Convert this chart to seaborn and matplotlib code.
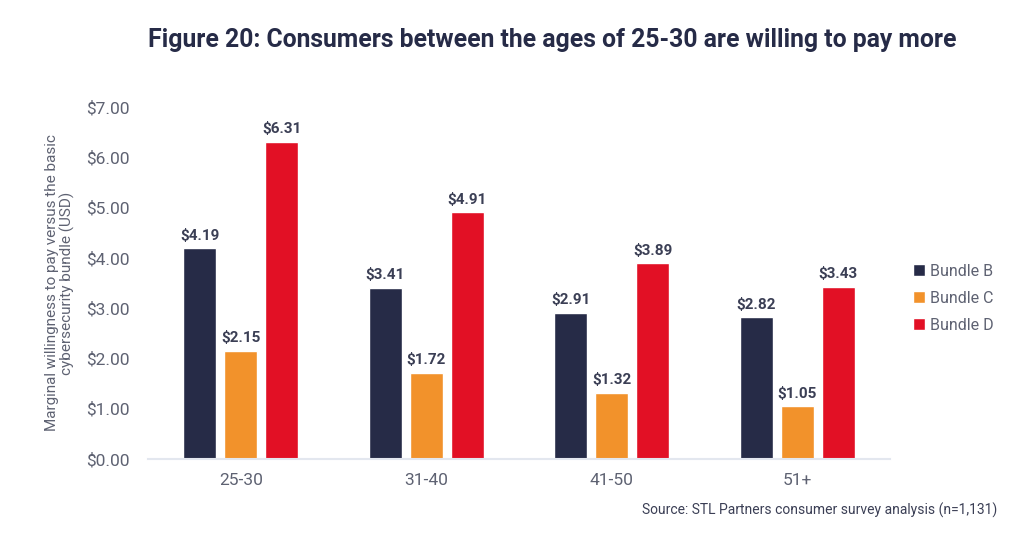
import matplotlib
matplotlib.use("Agg")
import matplotlib.pyplot as plt
import seaborn as sns
import pandas as pd
from matplotlib.patches import Patch

categories = ["25-30", "31-40", "41-50", "51+"]
bundles = ["Bundle B", "Bundle C", "Bundle D"]
bundle_b = [4.19, 3.41, 2.91, 2.82]
bundle_c = [2.15, 1.72, 1.32, 1.05]
bundle_d = [6.31, 4.91, 3.89, 3.43]
y_ticks = [0, 1, 2, 3, 4, 5, 6, 7]
colors = ["#262B47", "#F2922B", "#E21025"]

rows = []
for name, vals in zip(bundles, [bundle_b, bundle_c, bundle_d]):
    for cat, v in zip(categories, vals):
        rows.append({"Age": cat, "Bundle": name, "Value": v})
df = pd.DataFrame(rows)

sns.set_theme(style="white")
plt.rcParams['font.family'] = ['Roboto', 'DejaVu Sans']

fig = plt.figure(figsize=(10.24, 5.39), dpi=100)
ax = fig.add_axes([0.1445, 0.1484, 0.7245, 0.6531])

sns.barplot(data=df, x="Age", y="Value", hue="Bundle", palette=colors,
            order=categories, hue_order=bundles, width=0.663, gap=0.2,
            ax=ax, legend=False, saturation=1)

ax.set_xlim(-0.5, 3.5)
ax.set_ylim(0, 7)
ax.set_yticks(y_ticks)
ax.set_yticklabels([f"${t:.2f}" for t in y_ticks])
ax.tick_params(axis="both", length=0, labelsize=12.5, labelcolor="#5E6272")
ax.tick_params(axis="y", pad=13)
ax.tick_params(axis="x", pad=10)
for s in ["top", "right", "left"]:
    ax.spines[s].set_visible(False)
ax.spines["bottom"].set_color("#E3E7EF")
ax.spines["bottom"].set_linewidth(1.5)
ax.set_xlabel("")
ax.set_ylabel("Marginal willingness to pay versus the basic\ncybersecurity bundle (USD)",
              fontsize=11, color="#5E6272", labelpad=8, linespacing=1.05)

for cont in ax.containers:
    ax.bar_label(cont, labels=[f"${v:.2f}" for v in cont.datavalues], padding=4,
                 fontsize=11, fontweight="bold", color="#3B3F55")

handles = [Patch(facecolor=c, label=b) for c, b in zip(colors, bundles)]
fig.legend(handles=handles, loc="center left", bbox_to_anchor=(0.878, 0.447),
           frameon=False, handlelength=0.7, handleheight=0.7, handletextpad=0.35,
           labelspacing=0.75, prop={"size": 11.5}, labelcolor="#5E6272")

fig.text(0.539, 0.925, "Figure 20: Consumers between the ages of 25-30 are willing to pay more",
         ha="center", va="center", fontsize=17.8, fontweight="bold", color="#262B47")
fig.text(0.974, 0.054, "Source: STL Partners consumer survey analysis (n=1,131)",
         ha="right", va="center", fontsize=10, color="#3B3F55")

fig.savefig("out.png", dpi=100)
